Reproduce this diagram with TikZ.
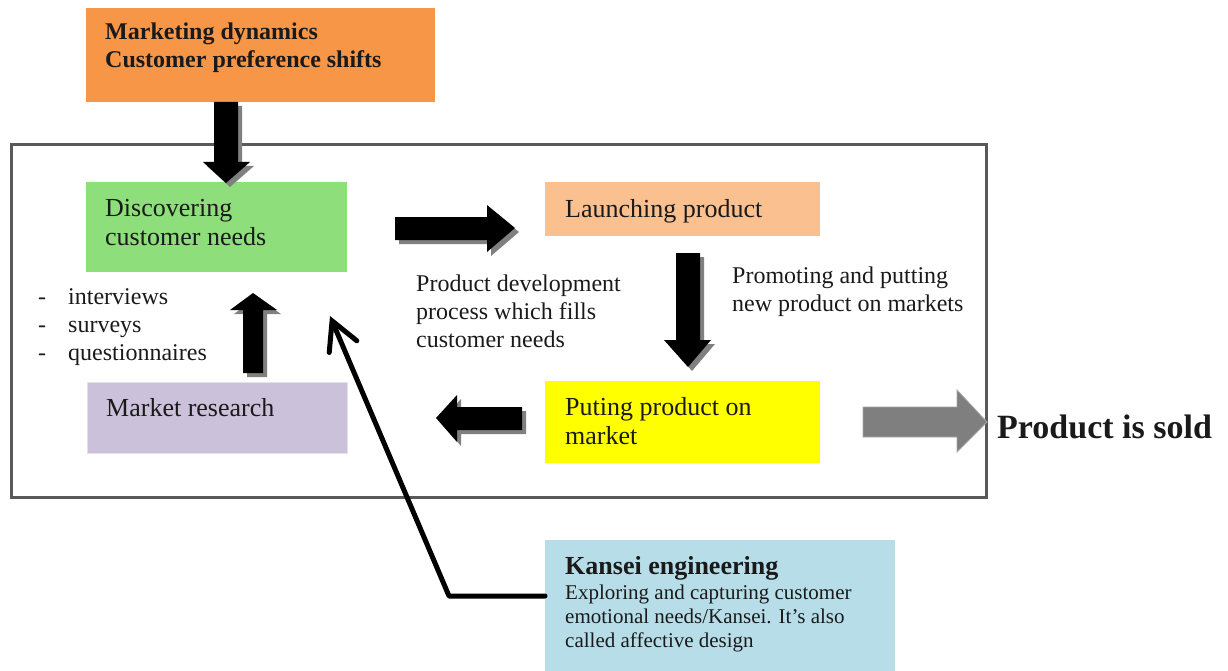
\documentclass[tikz,border=0pt]{standalone}
\usepackage{fontspec}
\setmainfont{Liberation Serif}
\usetikzlibrary{arrows.meta}
\definecolor{orangebox}{HTML}{F79646}
\definecolor{greenbox}{HTML}{8EDF7B}
\definecolor{peachbox}{HTML}{FAC090}
\definecolor{yellowbox}{HTML}{FFFF00}
\definecolor{lavbox}{HTML}{CCC1DA}
\definecolor{lavedge}{HTML}{E4DFEC}
\definecolor{bluebox}{HTML}{B7DEE8}
\definecolor{framegray}{HTML}{595959}
\definecolor{shadowgray}{HTML}{808080}
\definecolor{sold}{HTML}{7F7F7F}
\definecolor{txt}{HTML}{1A1A1A}
\tikzset{
  box/.style={rectangle, inner sep=0pt, anchor=north west, draw=none},
  lbl/.style={anchor=base west, inner sep=0pt, text=txt},
  big/.style={lbl, font=\fontsize{26}{30}\selectfont},
  mid/.style={lbl, font=\fontsize{24}{28}\selectfont},
  small/.style={lbl, font=\fontsize{21}{24}\selectfont},
  blockarrow/.style={fill=black, preaction={fill=shadowgray, transform canvas={xshift=4pt,yshift=-4pt}}},
}
\begin{document}
\begin{tikzpicture}[x=1pt,y=-1pt]
\useasboundingbox (0,0) rectangle (1228,671);
% outer frame
\draw[framegray, line width=3pt] (11.5,144.5) rectangle (986.5,497);
% boxes
\node[box, fill=orangebox, minimum width=349pt, minimum height=94pt] (mkt) at (86,8) {};
\node[box, fill=greenbox, minimum width=261pt, minimum height=90pt] (disc) at (86,182) {};
\node[box, fill=peachbox, minimum width=275pt, minimum height=54pt] (launch) at (545,182) {};
\node[box, fill=yellowbox, minimum width=275pt, minimum height=82pt] (put) at (545,381) {};
\node[box, fill=lavbox, draw=lavedge, line width=1.5pt, minimum width=260pt, minimum height=71pt] (res) at (86.5,381.5) {};
\node[box, fill=bluebox, minimum width=350pt, minimum height=131pt] (kansei) at (545,540) {};
% texts
\node[mid, font=\fontsize{24}{28}\selectfont\bfseries] (mkt1) at (105,40) {Marketing dynamics};
\node[mid, font=\fontsize{24}{28}\selectfont\bfseries] (mkt2) at (105,68) {Customer preference shifts};
\node[big] (disc1) at (105,216) {Discovering};
\node[big] (disc2) at (105,245) {customer needs};
\node[big] (launch1) at (565,217) {Launching product};
\node[big] (put1) at (565,415) {Puting product on};
\node[big] (put2) at (565,444) {market};
\node[big] (res1) at (106,416) {Market research};
\node[mid] (dev1) at (416,291) {Product development};
\node[mid] (dev2) at (416,319) {process which fills};
\node[mid] (dev3) at (416,347) {customer needs};
\node[mid] (pro1) at (732,283) {Promoting and putting};
\node[mid] (pro2) at (732,311) {new product on markets};
\node[mid] (d1) at (38,304) {-};
\node[mid] (b1) at (68,304) {interviews};
\node[mid] (d2) at (38,332) {-};
\node[mid] (b2) at (68,332) {surveys};
\node[mid] (d3) at (38,360) {-};
\node[mid] (b3) at (68,360) {questionnaires};
\node[lbl, font=\fontsize{34}{40}\selectfont\bfseries] (soldtxt) at (997,438) {Product is sold};
\node[lbl, font=\fontsize{26}{30}\selectfont\bfseries] (k0) at (565,574) {Kansei engineering};
\node[small] (k1) at (565,599) {Exploring and capturing customer};
\node[small] (k2) at (565,623) {emotional needs/Kansei. It’s also};
\node[small] (k3) at (565,647) {called affective design};
% block arrows
\path[blockarrow] (214,102) -- (238,102) -- (238,162) -- (250,162) -- (226,183) -- (203,162) -- (214,162) -- cycle;
\path[blockarrow] (395,217) -- (487,217) -- (487,205) -- (515,228) -- (487,252) -- (487,240) -- (395,240) -- cycle;
\path[blockarrow] (676,253) -- (700,253) -- (700,340) -- (711,340) -- (688,367) -- (664,340) -- (676,340) -- cycle;
\path[blockarrow] (522,407) -- (457,407) -- (457,395) -- (436,418) -- (457,442) -- (457,430) -- (522,430) -- cycle;
\path[blockarrow] (243,373) -- (243,310) -- (230,310) -- (253,293) -- (277,310) -- (263,310) -- (263,373) -- cycle;
\path[fill=sold, draw=shadowgray!70, line width=0.8pt] (863,407) -- (957,407) -- (957,390) -- (987,422) -- (957,452) -- (957,437) -- (863,437) -- cycle;
% Kansei connector
\coordinate (kbend) at (449,596);
\coordinate (ktip) at (330,316);
\draw[line width=5pt, line join=round, line cap=round, -{Straight Barb[length=28pt,width=30pt,line cap=round]}]
  (kansei.west |- kbend) -- (kbend) -- (ktip);
\end{tikzpicture}
\end{document}
